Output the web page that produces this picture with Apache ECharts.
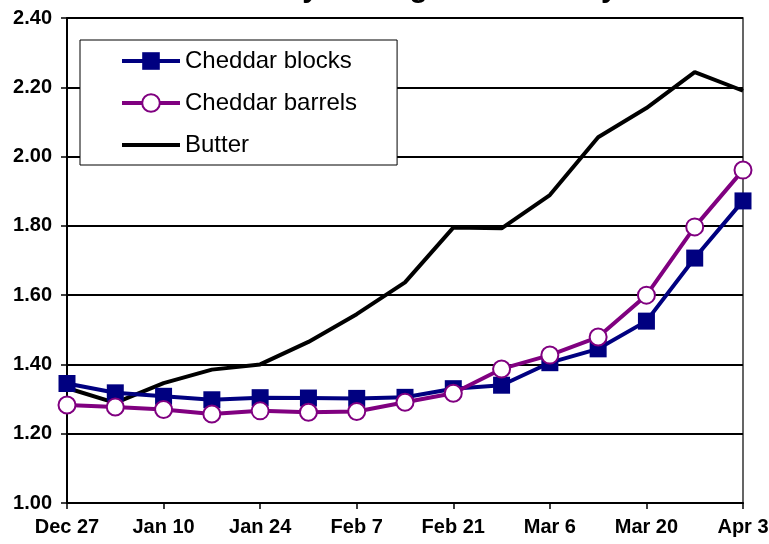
<!DOCTYPE html>
<html>
<head>
<meta charset="utf-8">
<script src="https://cdn.jsdelivr.net/npm/echarts@6/dist/echarts.min.js"></script>
<style>
  html, body { margin: 0; padding: 0; background: #fff; }
</style>
</head>
<body>
<div id="myChart" style="width:769px;height:544px;"></div>
<script>
// weekly categories, Dec 27 .. Apr 3
var weeks = ['Dec 27', 'Jan 3', 'Jan 10', 'Jan 17', 'Jan 24', 'Jan 31', 'Feb 7', 'Feb 14',
             'Feb 21', 'Feb 28', 'Mar 6', 'Mar 13', 'Mar 20', 'Mar 27', 'Apr 3'];
var cheddarBlocks = [1.345, 1.318, 1.308, 1.298, 1.304, 1.303, 1.302, 1.305,
                     1.330, 1.340, 1.405, 1.445, 1.525, 1.707, 1.872];
var cheddarBarrels = [1.283, 1.277, 1.270, 1.257, 1.266, 1.262, 1.264, 1.291,
                      1.317, 1.387, 1.427, 1.479, 1.600, 1.797, 1.961];
var butter = [1.332, 1.289, 1.346, 1.385, 1.400, 1.465, 1.545, 1.637,
              1.795, 1.793, 1.889, 2.056, 2.140, 2.244, 2.190];

var font = 'Arial, "Liberation Sans", sans-serif';

var myChart = echarts.init(document.getElementById('myChart'));
myChart.setOption({
    animation: false,
    // title sits mostly above the picture, only descenders show
    title: {
        text: 'Weekly Average Commodity Prices',
        left: 211,
        top: -31,
        textStyle: { fontFamily: font, fontSize: 30, fontWeight: 'bold', color: '#000' }
    },
    legend: {
        orient: 'vertical',
        left: 80,
        top: 40,
        padding: [9, 40, 8, 40],
        itemGap: 18,
        itemWidth: 58,
        itemHeight: 22,
        backgroundColor: '#fff',
        borderColor: '#000',
        borderWidth: 1,
        lineStyle: { width: 4 },
        textStyle: { fontFamily: font, fontSize: 24, color: '#000' },
        data: ['Cheddar blocks', 'Cheddar barrels', { name: 'Butter', itemStyle: { opacity: 0 } }]
    },
    grid: {
        left: 67, right: 26, top: 18, bottom: 41,
        outerBoundsMode: 'none',
        show: true,
        borderColor: '#333',
        borderWidth: 1.5
    },
    xAxis: {
        type: 'category',
        data: weeks,
        boundaryGap: false,
        axisLine: { lineStyle: { color: '#000', width: 2 } },
        axisTick: { interval: 1, length: 6, lineStyle: { color: '#000', width: 1.5 } },
        axisLabel: { interval: 1, margin: 14, fontFamily: font, fontSize: 20, fontWeight: 'bold', color: '#000' }
    },
    yAxis: {
        type: 'value',
        min: 1.0,
        max: 2.4,
        interval: 0.2,
        axisLine: { show: true, lineStyle: { color: '#000', width: 2 } },
        axisTick: { show: true, length: 6, lineStyle: { color: '#000', width: 1.5 } },
        axisLabel: {
            margin: 15, fontFamily: font, fontSize: 20, fontWeight: 'bold', color: '#000',
            formatter: function (v) { return v.toFixed(2); }
        },
        splitLine: { lineStyle: { color: '#000', width: 2 } }
    },
    series: [
        {
            name: 'Butter',
            type: 'line',
            data: butter,
            symbol: 'none',
            z: 2,
            lineStyle: { color: '#000', width: 4 },
            itemStyle: { color: '#000' }
        },
        {
            name: 'Cheddar blocks',
            type: 'line',
            data: cheddarBlocks,
            symbol: 'rect',
            symbolSize: 17,
            z: 3,
            lineStyle: { color: '#000080', width: 4 },
            itemStyle: { color: '#000080', borderWidth: 0 }
        },
        {
            name: 'Cheddar barrels',
            type: 'line',
            data: cheddarBarrels,
            symbol: 'circle',
            symbolSize: 17,
            z: 4,
            lineStyle: { color: '#800080', width: 4 },
            itemStyle: { color: '#fff', borderColor: '#800080', borderWidth: 2 }
        }
    ]
});
</script>
</body>
</html>
